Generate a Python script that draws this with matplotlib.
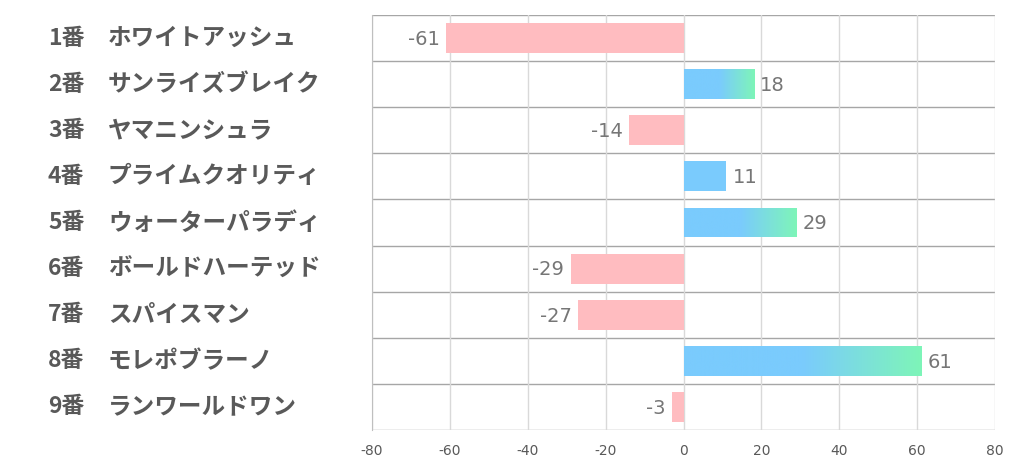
import numpy as np
import matplotlib.pyplot as plt
import matplotlib.transforms as mtransforms
from matplotlib.colors import LinearSegmentedColormap

plt.rcParams['font.family'] = ['Noto Sans CJK JP', 'DejaVu Sans']

numbers = ['1番', '2番', '3番', '4番', '5番', '6番', '7番', '8番', '9番']
names = ['ホワイトアッシュ', 'サンライズブレイク', 'ヤマニンシュラ', 'プライムクオリティ',
         'ウォーターパラディ', 'ボールドハーテッド', 'スパイスマン', 'モレポブラーノ', 'ランワールドワン']
values = [-61, 18, -14, 11, 29, -29, -27, 61, -3]
xticks = [-80, -60, -40, -20, 0, 20, 40, 60, 80]

pink = '#ffbcc0'
blue = '#7acbfd'
green = '#7ef5b8'
grad = LinearSegmentedColormap.from_list('g', [(0, blue), (0.5, blue), (1, green)])

fig = plt.figure(figsize=(10.22, 4.70), dpi=100)
ax = fig.add_axes([372/1022, 1 - 430/470, 623/1022, 415/470])

y = np.arange(len(values))
bh = 0.65
for yi, v in zip(y, values):
    if v < 0:
        ax.barh(yi, v, height=bh, color=pink, zorder=3)
    else:
        bar = ax.barh(yi, v, height=bh, color=blue, zorder=3)[0]
        # gradient fill only on the longer bars
        if v > 15:
            im = ax.imshow(np.linspace(0, 1, 256).reshape(1, -1), cmap=grad, aspect='auto',
                           extent=[0, v, yi + bh/2, yi - bh/2], zorder=4)
            im.set_clip_path(bar)
    if v < 0:
        ax.text(v - 1.6, yi + 0.03, str(v), ha='right', va='center', fontsize=14,
                color='#767676', family=['DejaVu Sans'], zorder=5)
    else:
        ax.text(v + 1.6, yi + 0.03, str(v), ha='left', va='center', fontsize=14,
                color='#767676', family=['DejaVu Sans'], zorder=5)

ax.set_xlim(-80, 80)
ax.set_ylim(len(values) - 0.5, -0.5)
ax.set_xticks(xticks)
ax.set_xticklabels([str(t) for t in xticks], fontsize=10, color='#595959', family=['DejaVu Sans'])
ax.tick_params(axis='x', length=0, pad=10)
ax.set_yticks([])
ax.grid(axis='x', color='#d9d9d9', linewidth=1, zorder=0)
for b in np.arange(len(values) + 1) - 0.5:
    ax.axhline(b, color='#a6a6a6', linewidth=1, zorder=1)
for s in ['top', 'right', 'bottom']:
    ax.spines[s].set_visible(False)
ax.spines['left'].set_color('#bfbfbf')

trans = mtransforms.blended_transform_factory(fig.transFigure, ax.transData)
for yi, n, nm in zip(y, numbers, names):
    ax.text(48/1022, yi, n, transform=trans, ha='left', va='center', fontsize=16.5,
            fontweight='bold', color='#595959')
    ax.text(108/1022, yi, nm, transform=trans, ha='left', va='center', fontsize=17,
            fontweight='bold', color='#595959')

fig.savefig('out.png', dpi=100)
